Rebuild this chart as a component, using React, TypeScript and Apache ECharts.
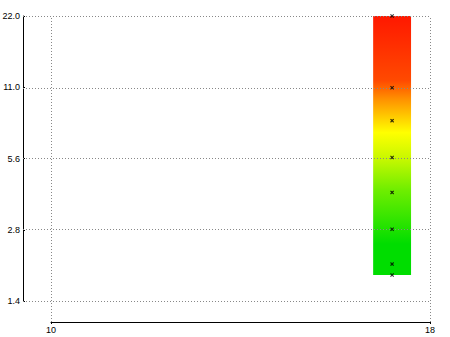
import React, { useEffect, useRef } from "react";
import * as echarts from "echarts";

// ---- data ----
const tickValues = [1.4, 2.8, 5.6, 11.0, 22.0];
const tickLabels = ["1.4", "2.8", "5.6", "11.0", "22.0"];
const xTicks = [10, 18];
const pointX = [17.2, 17.2, 17.2, 17.2, 17.2, 17.2, 17.2, 17.2];
const pointY = [22, 11, 8, 5.6, 4, 2.8, 2, 1.8];
const barRange = [16.8, 17.6]; // x extent of colour bar
const barValues = [1.8, 22]; // y extent of colour bar
const gradientStops = [
  [0, "#ff1800"],
  [0.25, "#ff4a00"],
  [0.32, "#ff9000"],
  [0.45, "#ffff00"],
  [0.55, "#c8f800"],
  [0.67, "#70ee00"],
  [0.88, "#00dd00"],
  [1, "#00dd00"],
];

const Y_LO = tickValues[0];
const Y_HI = tickValues[tickValues.length - 1];
const STEPS = tickValues.length - 1;
const toT = (v: number) => (STEPS * Math.log(v / Y_LO)) / Math.log(Y_HI / Y_LO);

// layout (pixels)
const FRAME_LEFT = 23;
const PLOT_LEFT = 51;
const RIGHT = 20;
const TOP = 16;
const FRAME_BOTTOM = 15;
const PLOT_BOTTOM = 36;
const W = 450;
const H = 337;

export default function App() {
  const ref = useRef<HTMLDivElement>(null);
  useEffect(() => {
    if (!ref.current) return;
    const chart = echarts.init(ref.current, null, { renderer: "svg" });

    const plotW = W - RIGHT - PLOT_LEFT;
    const pxPerX = (xTicks[1] - xTicks[0]) / plotW;
    const xMin0 = xTicks[0] - (PLOT_LEFT - FRAME_LEFT) * pxPerX;
    const plotH = H - PLOT_BOTTOM - TOP;
    const yMin0 = -(PLOT_BOTTOM - FRAME_BOTTOM) * (STEPS / plotH);

    const font = { fontFamily: "Liberation Sans, Arial, sans-serif", fontSize: 9, color: "#000" };
    const dotted = { color: "#888", width: 1, type: [1, 2] as any };
    const gridBase = { containLabel: false, outerBoundsMode: "none" };

    chart.setOption({
      animation: false,
      grid: [
        { ...gridBase, left: FRAME_LEFT, right: RIGHT, top: TOP, bottom: FRAME_BOTTOM },
        { ...gridBase, left: FRAME_LEFT, right: RIGHT, top: TOP, bottom: PLOT_BOTTOM },
        { ...gridBase, left: PLOT_LEFT, right: RIGHT, top: H - FRAME_BOTTOM - 1, bottom: FRAME_BOTTOM },
      ],
      xAxis: [
        { gridIndex: 0, type: "value", min: xMin0, max: xTicks[1], show: false },
        { gridIndex: 1, type: "value", min: 0, max: 1, show: false },
        {
          gridIndex: 2,
          type: "value",
          min: xTicks[0],
          max: xTicks[1],
          interval: xTicks[1] - xTicks[0],
          position: "bottom",
          axisLine: { show: true, lineStyle: { color: "#000", width: 1 } },
          axisTick: { show: true, length: 2, lineStyle: { color: "#000" } },
          axisLabel: { ...font, margin: 3 },
          splitLine: { show: false },
        },
      ],
      yAxis: [
        { gridIndex: 0, type: "value", min: yMin0, max: STEPS, show: false },
        {
          gridIndex: 1,
          type: "value",
          min: 0,
          max: STEPS,
          interval: 1,
          position: "left",
          axisLine: { show: true, lineStyle: { color: "#000", width: 1 } },
          axisTick: { show: true, inside: true, length: 2, lineStyle: { color: "#000" } },
          axisLabel: {
            ...font,
            margin: 3,
            overflow: "none",
            formatter: (v: number) => tickLabels[Math.round(v)] ?? "",
          },
          splitLine: { show: false },
        },
        { gridIndex: 2, type: "value", min: 0, max: 1, show: false },
      ],
      series: [
        {
          type: "custom",
          xAxisIndex: 0,
          yAxisIndex: 0,
          z: 1,
          silent: true,
          data: [[barRange[0], barRange[1], toT(barValues[0]), toT(barValues[1])]],
          encode: { x: [0, 1], y: [2, 3] },
          renderItem: (params: any, api: any) => {
            const p1 = api.coord([api.value(0), api.value(3)]);
            const p2 = api.coord([api.value(1), api.value(2)]);
            return {
              type: "rect",
              shape: { x: p1[0], y: p1[1], width: p2[0] - p1[0], height: p2[1] - p1[1] },
              style: {
                fill: new echarts.graphic.LinearGradient(
                  0,
                  0,
                  0,
                  1,
                  gradientStops.map(([o, c]) => ({ offset: o as number, color: c as string }))
                ),
              },
            };
          },
        },
        {
          type: "scatter",
          xAxisIndex: 0,
          yAxisIndex: 0,
          z: 5,
          silent: true,
          symbol:
            "path://M0,2L2,0L5,3L8,0L10,2L7,5L10,8L8,10L5,7L2,10L0,8L3,5Z",
          symbolSize: 4,
          itemStyle: { color: "#000" },
          data: pointX.map((x, i) => [x, toT(pointY[i])]),
          markLine: {
            silent: true,
            symbol: "none",
            label: { show: false },
            lineStyle: dotted,
            z: 3,
            data: [
              ...tickValues.map((v) => ({ yAxis: toT(v) })),
              ...xTicks.map((x) => ({ xAxis: x })),
            ],
          },
        },
      ],
    });
    return () => chart.dispose();
  }, []);
  return (
    <div
      ref={ref}
      style={{ position: "absolute", left: 0, top: 0, width: W, height: H }}
    />
  );
}
